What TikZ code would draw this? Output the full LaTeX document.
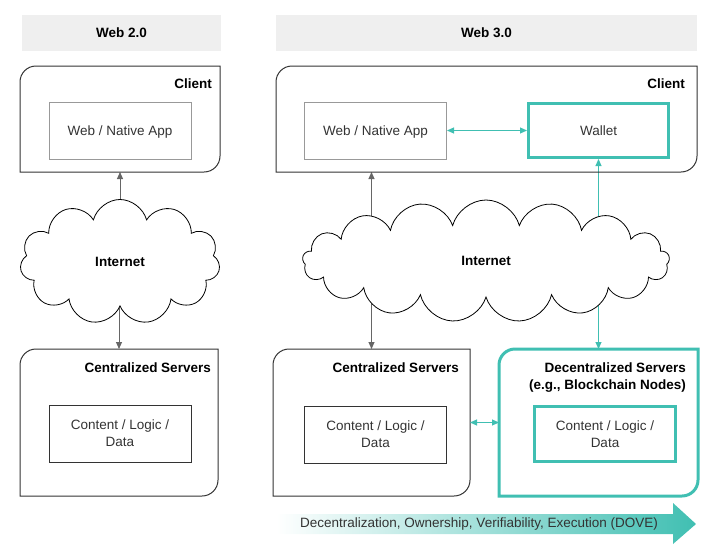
\documentclass[tikz,border=0pt]{standalone}
\usepackage{fontspec}
\setmainfont{Liberation Sans}
\usetikzlibrary{arrows.meta,positioning,shapes.symbols,backgrounds}
\definecolor{dove}{HTML}{40BFB2}
\definecolor{hdrgray}{HTML}{EFEFEF}
\definecolor{txtgray}{HTML}{333333}
\definecolor{linegray}{HTML}{666666}

\begin{document}
\begin{tikzpicture}[x=1pt,y=-1pt,
    every node/.style={font=\fontsize{13.5}{17}\selectfont},
    header/.style={fill=hdrgray,minimum height=36pt,font=\fontsize{13.5}{17}\selectfont\bfseries},
    frame/.style={inner sep=0pt,outer sep=0pt},
    outline/.style={draw=txtgray,line width=1pt,rounded corners=16pt,line cap=rect},
    tealline/.style={draw=dove,line width=3pt,rounded corners=16pt,line cap=rect},
    label/.style={inner sep=0pt,align=right,font=\fontsize{13.5}{17}\selectfont\bfseries},
    app/.style={draw=gray!80,line width=1pt,minimum width=142pt,minimum height=57pt,text=txtgray,align=center},
    netcloud/.style={cloud,draw=black,line width=0.8pt,fill=white,font=\fontsize{13.5}{17}\selectfont\bfseries},
    garrow/.style={draw=linegray,line width=1pt,-{Triangle[length=7pt,width=6pt]}},
    tarrow/.style={draw=dove,line width=1pt,{Triangle[length=7pt,width=6pt]}-{Triangle[length=7pt,width=6pt]}},
    tuparrow/.style={draw=dove,line width=1pt,-{Triangle[length=7pt,width=6pt]}}
]
    \useasboundingbox (0,0) rectangle (714,554);

    % Headers
    \node[header,minimum width=199pt] (hdr2) at (121.5,33) {Web 2.0};
    \node[header,minimum width=421pt] (hdr3) at (486.5,33) {Web 3.0};

    % Client boxes
    \node[frame,minimum width=200pt,minimum height=106pt] (cli2) at (120,119) {};
    \node[frame,minimum width=421pt,minimum height=106pt] (cli3) at (486.5,119) {};
    \draw[outline] (cli2.south west) -- (cli2.north west) -- (cli2.north east)
        (cli2.north east) -- (cli2.south east) -- (cli2.south west);
    \draw[outline] (cli3.south west) -- (cli3.north west) -- (cli3.north east)
        (cli3.north east) -- (cli3.south east) -- (cli3.south west);
    \node[label,below left=13pt and 8pt of cli2.north east] (clilab2) {Client};
    \node[label,below left=13pt and 12pt of cli3.north east] (clilab3) {Client};

    \node[app,text depth=0pt] (app2) at (120,130.5) {Web / Native App};
    \node[app,text depth=0pt] (app3) at (375.5,130.5) {Web / Native App};
    \node[app,draw=dove,line width=3pt,minimum width=140pt,minimum height=54pt] (wallet) at (598.5,130.5) {Wallet};

    % Server boxes
    \node[frame,minimum width=198pt,minimum height=147pt] (cen2) at (119,422.5) {};
    \node[frame,minimum width=197pt,minimum height=147pt] (cen3) at (371.5,422.5) {};
    \node[frame,minimum width=199pt,minimum height=147pt] (dec3) at (598.5,422.5) {};
    \draw[outline] (cen2.south west) -- (cen2.north west) -- (cen2.north east)
        (cen2.north east) -- (cen2.south east) -- (cen2.south west);
    \draw[outline] (cen3.south west) -- (cen3.north west) -- (cen3.north east)
        (cen3.north east) -- (cen3.south east) -- (cen3.south west);
    \draw[tealline] (dec3.south west) -- (dec3.north west) -- (dec3.north east)
        (dec3.north east) -- (dec3.south east) -- (dec3.south west);
    \node[label,below left=14pt and 7pt of cen2.north east] (cenlab2) {Centralized Servers};
    \node[label,below left=14pt and 11pt of cen3.north east] (cenlab3) {Centralized Servers};
    \node[label,below left=14pt and 12pt of dec3.north east] (declab3) {Decentralized Servers\\(e.g., Blockchain Nodes)};

    \node[app,draw=txtgray] (data2) at (120,433.5) {Content / Logic /\\Data};
    \node[app,draw=txtgray] (data3) at (375.5,434.5) {Content / Logic /\\Data};
    \node[app,draw=dove,line width=3pt,minimum width=141pt,minimum height=55pt] (data4) at (605,434) {Content / Logic /\\Data};

    % Internet clouds
    \node[netcloud,cloud puffs=11,minimum width=200pt,minimum height=125pt,aspect=1.6] (net2) at (120,262) {Internet};
    \node[netcloud,cloud puffs=17,minimum width=367pt,minimum height=122pt,aspect=2.9] (net3) at (486,261) {Internet};

    % Connectors, behind the clouds
    \begin{scope}[on background layer]
        \draw[garrow] (net2.center -| cli2.south) -- (cli2.south);
        \draw[garrow] (net2.center -| cen2.north) -- (cen2.north);
        \draw[garrow] (net3.center -| cen3.north) -- (cen3.north |- cli3.south);
        \draw[garrow] (net3.center -| cen3.north) -- (cen3.north);
        \draw[tuparrow] (net3.center -| wallet.south) -- (wallet.south);
        \draw[tuparrow] (net3.center -| dec3.north) -- (dec3.north);
    \end{scope}
    \draw[tarrow] (app3) -- (wallet);
    \draw[tarrow] (cen3) -- (dec3);

    % DOVE arrow
    \shade[left color=white,right color=dove] (276,514) -- (673,514) -- (673,503) -- (696,524)
        -- (673,544) -- (673,534) -- (276,534) -- cycle;
    \node[text=txtgray] (dove) at (479,524) {Decentralization, Ownership, Verifiability, Execution (DOVE)};
\end{tikzpicture}
\end{document}
